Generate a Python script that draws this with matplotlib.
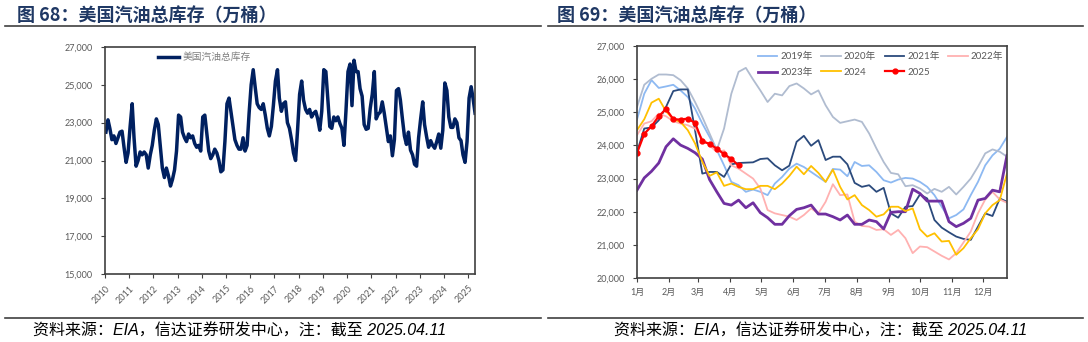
import matplotlib
matplotlib.use('Agg')
import matplotlib.pyplot as plt
import matplotlib.dates as mdates
from matplotlib.lines import Line2D
import pandas as pd

plt.rcParams['font.family'] = ['Lato', 'Noto Sans CJK SC', 'DejaVu Sans']
plt.rcParams['axes.unicode_minus'] = False

# ---- left chart: monthly total gasoline stocks (10k bbl), 2010-01 .. 2025-04
stock_monthly = [
    # 2010
    22500, 23150, 22700, 22100, 22300, 21900, 22200, 22500, 22550, 21700, 20900, 21400,
    # 2011
    22800, 24000, 22200, 20700, 21000, 21450, 21300, 21450, 21300, 20600, 21300, 21800,
    # 2012
    22600, 23200, 22900, 21700, 20600, 20100, 20600, 20200, 19650, 20000, 20500, 21500,
    # 2013
    23400, 23300, 22500, 22200, 22000, 22400, 22200, 22300, 21900, 21700, 21800, 21500,
    # 2014
    23300, 23400, 22500, 21500, 21100, 21300, 21600, 21400, 21000, 20400, 20500, 22000,
    # 2015
    24000, 24300, 23600, 22800, 22100, 21800, 21600, 21600, 22200, 21500, 21800, 23500,
    # 2016
    25000, 25800, 24900, 24000, 23800, 23700, 24000, 23400, 22700, 22300, 22800, 23900,
    # 2017
    25200, 25800, 24300, 23600, 24000, 24100, 23000, 22700, 22100, 21400, 21000, 22600,
    # 2018
    24500, 25200, 24200, 23700, 23500, 23700, 23300, 23500, 23600, 23200, 22600, 23600,
    # 2019
    25800, 25700, 24300, 22800, 22700, 23300, 23100, 23300, 22950, 22700, 21800, 23600,
    # 2020
    25700, 26100, 23900, 26300, 25700, 25700, 24800, 24400, 22900, 22650, 22700, 23750,
    # 2021
    24500, 25700, 23200, 23450, 23550, 24100, 23500, 22750, 22000, 22300, 21250, 22100,
    # 2022
    24700, 24800, 24200, 23200, 22300, 21850, 22500, 21550, 21300, 20800, 20700, 22200,
    # 2023
    23200, 24100, 22900, 22250, 21700, 22050, 21800, 21650, 22000, 22400, 21650, 22600,
    # 2024
    25100, 24700, 23300, 22750, 22750, 23200, 23000, 22200, 22050, 21300, 20900, 22000,
    # 2025
    24300, 24900, 24300, 23500,
]
months = pd.date_range('2010-01-01', periods=len(stock_monthly), freq='MS') + pd.Timedelta(days=14)

# ---- right chart: weekly stocks by year
y2019 = [24780, 25560, 25970, 25735, 25780, 25830, 25660, 25460, 25110, 24660, 24260, 23860, 23400,
         22900, 22800, 22600, 22670, 22600, 22500, 22850, 23050, 23300, 23450, 23350, 23200, 23050,
         22900, 23290, 23270, 23070, 23500, 23380, 23400, 23200, 22950, 22880, 22970, 23020, 23000,
         22900, 22750, 22500, 22150, 21800, 21900, 22070, 22500, 22900, 23400, 23700, 23900, 24260]
y2020 = [25160, 25830, 26010, 26140, 26140, 26120, 25970, 25720, 25310, 24860, 24360, 23860, 24510,
         25560, 26220, 26340, 25990, 25660, 25310, 25560, 25510, 25790, 25870, 25720, 25540, 25660,
         25210, 24860, 24680, 24730, 24780, 24710, 24360, 23910, 23500, 23170, 23130, 22770, 22800,
         22700, 22550, 22690, 22600, 22750, 22520, 22750, 23000, 23360, 23760, 23880, 23810, 23660]
y2021 = [23800, 24510, 24540, 24760, 25160, 25640, 25690, 25690, 24460, 23150, 23200, 23200, 23050,
         23430, 23470, 23480, 23490, 23590, 23610, 23400, 23250, 23390, 24110, 24290, 23990, 24160,
         23560, 23660, 23660, 23430, 22870, 22750, 22800, 22600, 22720, 21950, 21820, 22150, 22170,
         22520, 22400, 21750, 21520, 21380, 21250, 21180, 21150, 21550, 21950, 21870, 22400, 22300]
y2022 = [24310, 24660, 24730, 24960, 24880, 24730, 24660, 24610, 24510, 24200, 24000, 23800, 23850,
         23400, 23300, 23150, 23000, 22700, 22050, 21950, 21900, 21850, 21750, 21900, 22100, 21950,
         22300, 22830, 22500, 22520, 21700, 21570, 21550, 21450, 21470, 21300, 21450, 21200, 20750,
         20950, 20930, 20800, 20670, 20560, 20750, 21070, 21400, 21950, 22370, 22600, 22370, 22270]
y2023 = [22650, 23020, 23220, 23470, 23960, 24200, 24010, 23910, 23780, 23590, 22970, 22600, 22250,
         22200, 22350, 22120, 22270, 21970, 21820, 21620, 21620, 21880, 22070, 22120, 22200, 21930,
         21930, 21850, 21750, 21900, 21620, 21620, 21750, 21700, 21480, 21980, 22000, 22000, 22680,
         22550, 22320, 22320, 22320, 21700, 21550, 21650, 21800, 22350, 22400, 22650, 22600, 23700]
y2024 = [24460, 24790, 25290, 25410, 25030, 24790, 24710, 24460, 24060, 23510, 23080, 23190, 22780,
         22850, 22750, 22680, 22680, 22780, 22780, 22680, 22850, 23080, 23360, 23130, 23380, 23170,
         22900, 23270, 22750, 22370, 22500, 22200, 22050, 21850, 21920, 22150, 22150, 22020, 22100,
         21470, 21250, 21350, 21100, 21120, 20700, 20900, 21200, 21470, 21950, 22200, 22350, 23150]
y2025 = [23770, 24350, 24580, 24880, 25100, 24790, 24780, 24810, 24680, 24120, 24050, 23900, 23740,
         23590, 23400]

month_labels = ['1月', '2月', '3月', '4月', '5月', '6月', '7月', '8月', '9月', '10月', '11月', '12月']
month_start_day = [0, 31, 59, 90, 120, 151, 181, 212, 243, 273, 304, 334]

navy = '#002060'
tick_gray = '#595959'
title_color = '#1F3864'

fig = plt.figure(figsize=(10.88, 3.42), dpi=100)

# ------------------- left chart
ax1 = fig.add_axes([105 / 1088, 1 - 274 / 342, 370 / 1088, 227 / 342])
ax1.plot(months, stock_monthly, color=navy, lw=2.5, label='美国汽油总库存')
ax1.set_ylim(15000, 27000)
ax1.set_yticks(range(15000, 27001, 2000))
ax1.yaxis.set_major_formatter(matplotlib.ticker.FuncFormatter(lambda v, p: f'{int(v):,}'))
ax1.set_xlim(pd.Timestamp('2010-01-01'), pd.Timestamp('2025-04-14'))
ax1.xaxis.set_major_locator(mdates.YearLocator(1))
ax1.xaxis.set_major_formatter(mdates.DateFormatter('%Y'))
for lab in ax1.get_xticklabels():
    lab.set_rotation(45)
    lab.set_ha('right')
    lab.set_va('top')
    lab.set_rotation_mode('anchor')
ax1.legend(loc='upper left', bbox_to_anchor=(0.143, 0.975), frameon=False, fontsize=7,
           handlelength=2.2, handletextpad=0.3, borderpad=0, borderaxespad=0,
           labelcolor='#7f7f7f')

# ------------------- right chart
ax2 = fig.add_axes([637 / 1088, 1 - 278 / 342, 370 / 1088, 232 / 342])
series = [
    (y2019, '2019年', '#8DB9F2', 1.3),
    (y2020, '2020年', '#B0BCD0', 1.3),
    (y2021, '2021年', '#2B4A7C', 1.3),
    (y2022, '2022年', '#FFB1B1', 1.3),
    (y2023, '2023年', '#7030A0', 2.0),
    (y2024, '2024', '#FFC000', 1.3),
]
handles = {}
for vals, name, col, lw in series:
    days = [i * 7 for i in range(len(vals))]
    ln, = ax2.plot(days, vals, color=col, lw=lw, label=name)
    handles[name] = ln
days25 = [i * 7 for i in range(len(y2025))]
ln, = ax2.plot(days25, y2025, color='#FF0000', lw=1.6, marker='o', ms=3.5, label='2025')
handles['2025'] = ln

ax2.set_ylim(20000, 27000)
ax2.set_yticks(range(20000, 27001, 1000))
ax2.yaxis.set_major_formatter(matplotlib.ticker.FuncFormatter(lambda v, p: f'{int(v):,}'))
ax2.set_xlim(0, 357)
ax2.set_xticks(month_start_day)
ax2.set_xticklabels(month_labels)

order = ['2019年', '2023年', '2020年', '2024', '2021年', '2025', '2022年']
ax2.legend([handles[k] for k in order], order, ncol=4, loc='upper left',
           bbox_to_anchor=(0.327, 0.975), frameon=False, fontsize=7,
           handlelength=2.0, handletextpad=0.3, columnspacing=0.9, labelspacing=0.7,
           borderpad=0, borderaxespad=0, labelcolor=tick_gray)

for ax in (ax1, ax2):
    for s in ax.spines.values():
        s.set_color('#404040')
        s.set_linewidth(1.2)
    ax.tick_params(axis='both', labelsize=6.5, colors='#404040', labelcolor=tick_gray,
                   direction='out', length=3, width=0.8)
    ax.tick_params(axis='y', pad=6)
    ax.tick_params(axis='x', pad=4)

# ------------------- titles, rules and footers
fig.text(17 / 1088, 1 - 15 / 342, '图 68：美国汽油总库存（万桶）', fontsize=13, fontweight='bold',
         color=title_color, va='center', ha='left', family=['Noto Sans CJK SC', 'DejaVu Sans'])
fig.text(557 / 1088, 1 - 15 / 342, '图 69：美国汽油总库存（万桶）', fontsize=13, fontweight='bold',
         color=title_color, va='center', ha='left', family=['Noto Sans CJK SC', 'DejaVu Sans'])

for y in (1 - 25.5 / 342, 1 - 318 / 342):
    fig.add_artist(Line2D([5 / 1088, 541 / 1088], [y, y], color='#404040', lw=1.2))
    fig.add_artist(Line2D([548 / 1088, 1083 / 1088], [y, y], color='#404040', lw=1.2))

footer = '资料来源：EIA，信达证券研发中心，注：截至 2025.04.11'
fig.text(33 / 1088, 1 - 331 / 342, footer, fontsize=11.5, style='italic', va='center', ha='left',
         color='#000000', family=['Liberation Sans', 'Noto Sans CJK SC'])
fig.text(614 / 1088, 1 - 331 / 342, footer, fontsize=11.5, style='italic', va='center', ha='left',
         color='#000000', family=['Liberation Sans', 'Noto Sans CJK SC'])

fig.savefig('out.png', dpi=100)
